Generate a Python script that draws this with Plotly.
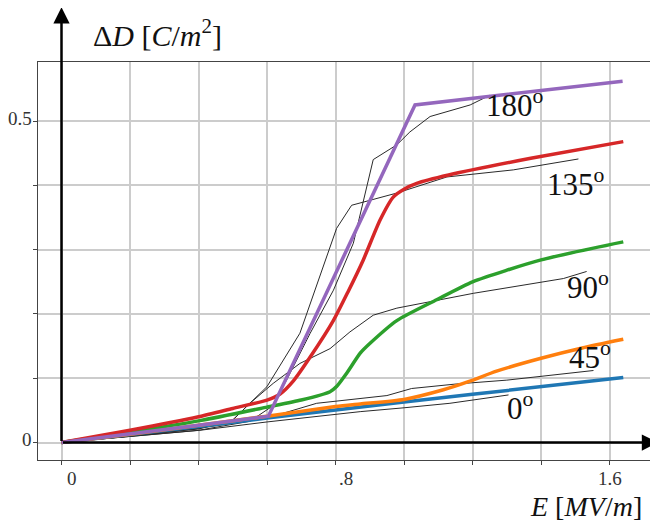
import plotly.graph_objects as go

# ---- data (E in MV/m, Delta D in C/m^2) ----
blue_E = [0, 0.2, 0.4, 0.6, 0.8, 1.0, 1.2, 1.4, 1.64]
blue_D = [0, 0.012, 0.025, 0.038, 0.051, 0.063, 0.075, 0.087, 0.101]

orange_E = [0, 0.2, 0.4, 0.6, 0.8, 0.872, 1.0, 1.115, 1.19, 1.27, 1.4, 1.52, 1.64]
orange_D = [0, 0.013, 0.027, 0.041, 0.056, 0.060, 0.067, 0.082, 0.095, 0.111, 0.131, 0.147, 0.1605]

green_E = [0, 0.2, 0.404, 0.6, 0.7, 0.784, 0.803, 0.833, 0.872, 0.9, 0.98, 1.095, 1.2, 1.4, 1.64]
green_D = [0, 0.016, 0.034, 0.055, 0.066, 0.079, 0.087, 0.108, 0.139, 0.154, 0.19, 0.222, 0.25, 0.284, 0.312]

red_E = [0, 0.2, 0.4, 0.5, 0.6, 0.638, 0.677, 0.726, 0.794, 0.837, 0.881, 0.93, 0.969, 1.0, 1.037, 1.13, 1.37, 1.64]
red_D = [0, 0.019, 0.040, 0.053, 0.066, 0.0755, 0.096, 0.133, 0.19, 0.235, 0.284, 0.346, 0.382, 0.394, 0.403, 0.416, 0.442, 0.468]

purple_E = [0, 0.2, 0.4, 0.604, 1.032, 1.638]
purple_D = [0, 0.013, 0.027, 0.041, 0.525, 0.562]

# measured (black) curves
k0_E = [0, 0.2, 0.404, 0.6, 0.784, 0.872, 1.0, 1.134, 1.305]
k0_D = [0, 0.009, 0.019, 0.032, 0.043, 0.048, 0.054, 0.061, 0.074]

k45_E = [0, 0.2, 0.4, 0.6, 0.745, 0.872, 0.95, 1.022, 1.152, 1.3, 1.407, 1.553]
k45_D = [0, 0.010, 0.022, 0.038, 0.061, 0.069, 0.073, 0.084, 0.091, 0.097, 0.103, 0.112]

k90_E = [0, 0.2, 0.4, 0.5, 0.55, 0.618, 0.696, 0.784, 0.842, 0.91, 0.979, 1.202, 1.465, 1.533]
k90_D = [0, 0.010, 0.022, 0.035, 0.061, 0.092, 0.123, 0.146, 0.172, 0.198, 0.209, 0.232, 0.255, 0.266]

k135_E = [0, 0.2, 0.4, 0.5, 0.6, 0.696, 0.74, 0.803, 0.847, 0.979, 1.125, 1.319, 1.509]
k135_D = [0, 0.010, 0.021, 0.035, 0.087, 0.17, 0.237, 0.333, 0.369, 0.388, 0.413, 0.424, 0.441]

k180_E = [0, 0.2, 0.4, 0.55, 0.614, 0.657, 0.726, 0.794, 0.852, 0.91, 0.979, 1.017, 1.076, 1.193, 1.25]
k180_D = [0, 0.009, 0.019, 0.033, 0.056, 0.097, 0.17, 0.237, 0.31, 0.44, 0.463, 0.483, 0.507, 0.525, 0.54]

curve_labels = ["180", "135", "90", "45", "0"]
x_ticks = [0, 0.2, 0.4, 0.6, 0.8, 1.0, 1.2, 1.4, 1.6]
x_tick_text = ["0", ".8", "1.6"]
y_ticks = [0, 0.1, 0.2, 0.3, 0.4, 0.5]
y_tick_text = ["0", "0.5"]

fig = go.Figure()

for ex, dy in [(k0_E, k0_D), (k45_E, k45_D), (k90_E, k90_D), (k135_E, k135_D), (k180_E, k180_D)]:
    fig.add_trace(go.Scatter(x=ex, y=dy, mode="lines", line=dict(color="#2a2a2a", width=1),
                             showlegend=False, hoverinfo="skip"))

colored = [
    (blue_E, blue_D, "#1f77b4", "linear"),
    (orange_E, orange_D, "#ff7f0e", "spline"),
    (green_E, green_D, "#2ca02c", "spline"),
    (red_E, red_D, "#d62728", "spline"),
    (purple_E, purple_D, "#9467bd", "linear"),
]
for ex, dy, c, shp in colored:
    fig.add_trace(go.Scatter(x=ex, y=dy, mode="lines",
                             line=dict(color=c, width=3.5, shape=shp, smoothing=0.6),
                             showlegend=False))

SERIF = "Liberation Serif"
ann = []
# axis arrows
ann.append(dict(x=0, y=0.677, ax=0, ay=0, xref="x", yref="y", axref="x", ayref="y",
                showarrow=True, arrowhead=2, arrowsize=1.3, arrowwidth=2.5,
                arrowcolor="black", text=""))
ann.append(dict(x=1.7416, y=0, ax=0, ay=0, xref="x", yref="y", axref="x", ayref="y",
                showarrow=True, arrowhead=2, arrowsize=1.3, arrowwidth=2.5,
                arrowcolor="black", text=""))
# axis titles (paper coordinates)
ann.append(dict(x=0.196, y=1.073, xref="paper", yref="paper", showarrow=False,
                xanchor="center", yanchor="middle", borderpad=0,
                text="Δ<i>D</i> [<i>C</i>/<i>m</i><sup>2</sup>]",
                font=dict(family=SERIF, size=30, color="#111")))
ann.append(dict(x=0.895, y=-0.1156, xref="paper", yref="paper", showarrow=False,
                xanchor="center", yanchor="middle", borderpad=0,
                text="<i>E</i> [<i>MV</i>/<i>m</i>]",
                font=dict(family=SERIF, size=28, color="#111")))
# tick labels
for tx, lab in zip([0.0556, 0.503, 0.9346], x_tick_text):
    ann.append(dict(x=tx, y=-0.0453, xref="paper", yref="paper", showarrow=False, text=lab,
                    xanchor="center", yanchor="middle", borderpad=0,
                    font=dict(family=SERIF, size=19, color="#333")))
for ty, lab in zip([0.0503, 0.859], y_tick_text):
    ann.append(dict(x=-0.008, y=ty, xref="paper", yref="paper", showarrow=False, text=lab,
                    xanchor="right", yanchor="middle", borderpad=0,
                    font=dict(family=SERIF, size=19, color="#333")))
# curve labels
label_pos = [(1.324, 0.527), (1.502, 0.404), (1.537, 0.244), (1.543, 0.135), (1.339, 0.056)]
for (lx, ly), lab in zip(label_pos, curve_labels):
    ann.append(dict(x=lx, y=ly, xref="x", yref="y", showarrow=False,
                    xanchor="center", yanchor="middle",
                    text=lab + "<sup>o</sup>",
                    font=dict(family=SERIF, size=31, color="#111")))

fig.update_layout(
    width=650, height=516, autosize=False,
    margin=dict(l=30, r=8, t=54, b=64),
    paper_bgcolor="white", plot_bgcolor="white",
    annotations=ann,
    xaxis=dict(range=[-0.0686, 1.718], tickvals=x_ticks, ticktext=[""] * len(x_ticks),
               showgrid=True, gridcolor="#cccccc", gridwidth=1.5, zeroline=False,
               ticks="outside", ticklen=4, tickcolor="#444",
               showline=True, mirror=True, linecolor="#444", linewidth=1),
    yaxis=dict(range=[-0.0272, 0.5918], tickvals=y_ticks, ticktext=[""] * len(y_ticks),
               showgrid=True, gridcolor="#cccccc", gridwidth=1.5, zeroline=False,
               ticks="outside", ticklen=4, tickcolor="#444",
               showline=True, mirror=True, linecolor="#444", linewidth=1),
)

fig.write_html("out.html")
